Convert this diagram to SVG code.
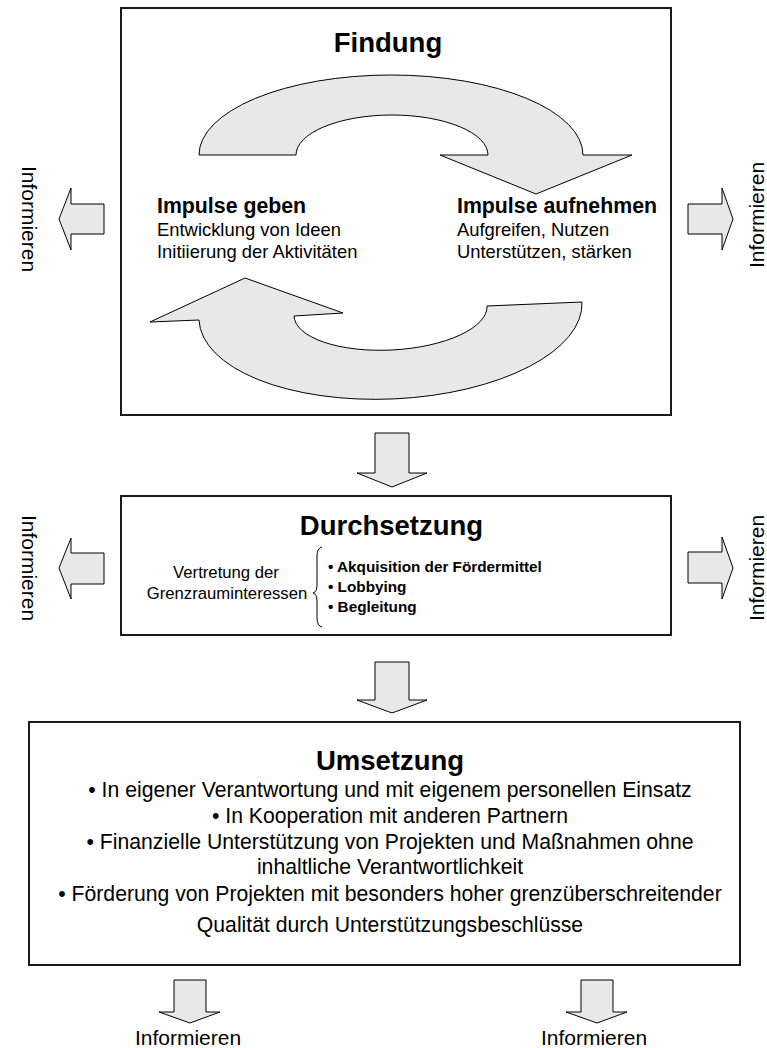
<svg xmlns="http://www.w3.org/2000/svg" width="767" height="1048" viewBox="0 0 767 1048">
<style>
.box{fill:#fff;stroke:#1a1a1a;stroke-width:2}
.arr{fill:#e8e8e8;stroke:#000;stroke-width:1;stroke-linejoin:miter}
text{font-family:"Liberation Sans",Arial,sans-serif;fill:#000}
.title{font-size:27.5px;font-weight:bold;text-anchor:middle}
.sub{font-size:21.3px;font-weight:bold}
.body{font-size:18.4px}
.inf{font-size:21px;text-anchor:middle}
.um{font-size:21.2px;text-anchor:middle}
.ds{font-size:16.7px;text-anchor:middle}
.bl{font-size:15.3px;font-weight:bold}
</style>
<rect width="767" height="1048" fill="#fff"/>
<g id="findung">
<rect class="box" x="121" y="8" width="550" height="407"/>
<text class="title" x="388" y="52">Findung</text>
<path class="arr" d="M199,155 A192,80 0 0 1 583,155 L632,155 L536,194 L440,155 L488,155 A96,40 0 0 0 296,155 Z"/>
<path class="arr" d="M245,278 L343,313 L294,316 A96.6,39 -3 0 0 487,306 L582,302 A191.7,88 -2.7 0 1 199,320 L150,322 Z"/>
<text class="sub" x="157" y="213">Impulse geben</text>
<text class="body" x="157" y="236">Entwicklung von Ideen</text>
<text class="body" x="157" y="258">Initiierung der Aktivitäten</text>
<text class="sub" x="457" y="213">Impulse aufnehmen</text>
<text class="body" x="457" y="236">Aufgreifen, Nutzen</text>
<text class="body" x="457" y="258">Unterstützen, stärken</text>
</g>
<g id="durchsetzung">
<rect class="box" x="121" y="496" width="550" height="139"/>
<text class="title" x="391.5" y="535">Durchsetzung</text>
<text class="ds" x="226" y="578">Vertretung der</text>
<text class="ds" x="227" y="599">Grenzrauminteressen</text>
<path d="M322,547 Q317,548 317,556 L317,585 Q317,592 313,593 Q317,594 317,601 L317,618 Q317,626 322,627" fill="none" stroke="#000" stroke-width="1"/>
<text class="bl" x="328" y="572">• Akquisition der Fördermittel</text>
<text class="bl" x="328" y="592">• Lobbying</text>
<text class="bl" x="328" y="612">• Begleitung</text>
</g>
<g id="umsetzung">
<rect class="box" x="29" y="722" width="711" height="243"/>
<text class="title" x="390" y="770">Umsetzung</text>
<text class="um" x="390" y="797">• In eigener Verantwortung und mit eigenem personellen Einsatz</text>
<text class="um" x="390" y="823">• In Kooperation mit anderen Partnern</text>
<text class="um" x="390" y="849">• Finanzielle Unterstützung von Projekten und Maßnahmen ohne</text>
<text class="um" x="390" y="874">inhaltliche Verantwortlichkeit</text>
<text class="um" x="390" y="901">• Förderung von Projekten mit besonders hoher grenzüberschreitender</text>
<text class="um" x="390" y="932">Qualität durch Unterstützungsbeschlüsse</text>
</g>
<g id="informieren-labels">
<text class="inf" transform="translate(22,219) rotate(90)">Informieren</text>
<text class="inf" transform="translate(764,215) rotate(-90)">Informieren</text>
<text class="inf" transform="translate(22,568) rotate(90)">Informieren</text>
<text class="inf" transform="translate(764,568) rotate(-90)">Informieren</text>
<text class="inf" x="188" y="1045">Informieren</text>
<text class="inf" x="594" y="1045">Informieren</text>
</g>
<g id="connectors">
<path class="arr" d="M375,433 L409,433 L409,473 L427,473 L392,487 L357,473 L375,473 Z"/>
<path class="arr" d="M375,662 L409,662 L409,700 L427,700 L392,713 L357,700 L375,700 Z"/>
<path class="arr" d="M104,204 L71,204 L71,188 L59,219 L71,250 L71,234 L104,234 Z"/>
<path class="arr" d="M688,204 L722,204 L722,188 L733,219 L722,250 L722,234 L688,234 Z"/>
<path class="arr" d="M104,553 L71,553 L71,538 L59,568 L71,599 L71,584 L104,584 Z"/>
<path class="arr" d="M688,552 L722,552 L722,537 L733,568 L722,599 L722,583 L688,583 Z"/>
<path class="arr" d="M174,980 L206,980 L206,1012 L220,1012 L190,1023 L159,1012 L174,1012 Z"/>
<path class="arr" d="M581,980 L613,980 L613,1012 L627,1012 L597,1023 L566,1012 L581,1012 Z"/>
</g>
</svg>
